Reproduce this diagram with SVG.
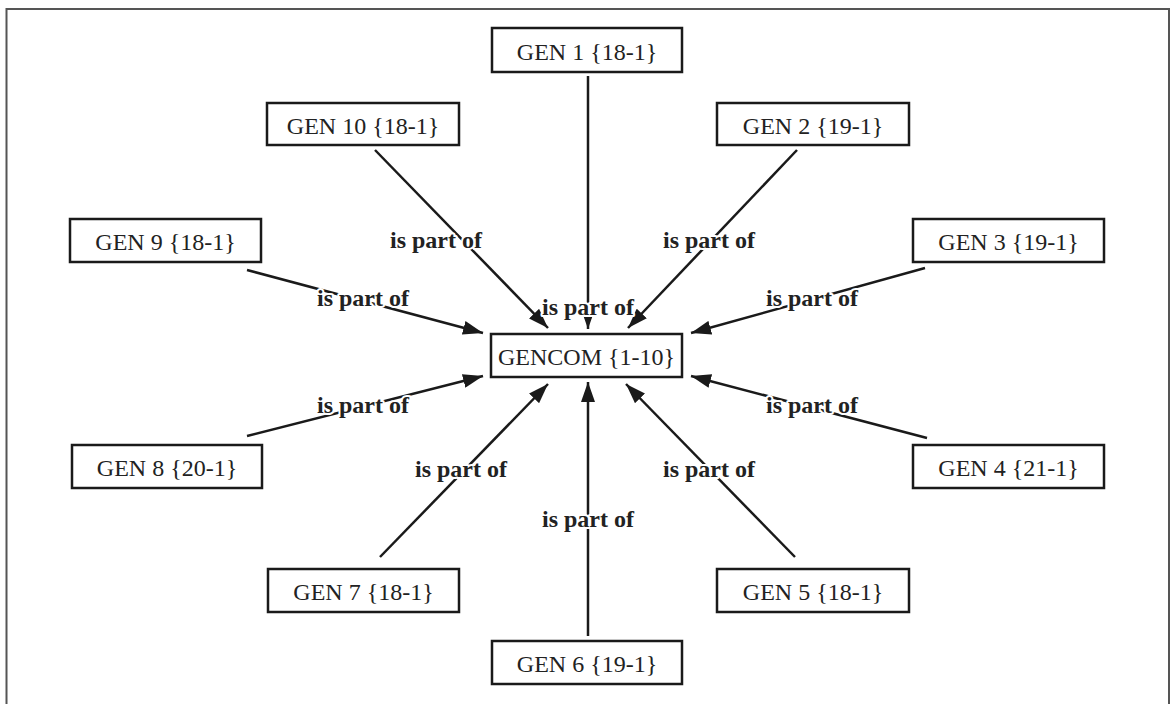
<svg xmlns="http://www.w3.org/2000/svg" width="1171" height="704" viewBox="0 0 1171 704">
  <defs>
    <marker id="arrow" markerWidth="20" markerHeight="14" refX="20" refY="7" orient="auto" markerUnits="userSpaceOnUse">
      <path d="M0,0 L20,7 L0,14 Z" fill="#1a1a1a"/>
    </marker>
    <style>
      .frame { fill: #ffffff; stroke: #555555; stroke-width: 2; }
      .box { fill: #ffffff; stroke: #1a1a1a; stroke-width: 2.5; }
      .name { font-family: "Liberation Serif", "Times New Roman", serif; font-size: 24px; fill: #222222; text-anchor: middle; }
      .edge { stroke: #1a1a1a; stroke-width: 2.5; fill: none; marker-end: url(#arrow); }
      .rel { font-family: "Liberation Serif", "Times New Roman", serif; font-size: 24px; font-weight: bold; fill: #222222; text-anchor: middle; stroke: #ffffff; stroke-width: 4; paint-order: stroke; stroke-linejoin: round; }
    </style>
  </defs>

  <rect class="frame" x="6.5" y="9" width="1162.5" height="710"/>

  <!-- connectors: every generation points at the combined node -->
  <g id="connectors">
    <line class="edge" x1="588" y1="76" x2="588" y2="329"/>
    <line class="edge" x1="375" y1="150" x2="548" y2="328"/>
    <line class="edge" x1="797" y1="150" x2="628" y2="328"/>
    <line class="edge" x1="247" y1="270" x2="483" y2="333"/>
    <line class="edge" x1="925" y1="268" x2="691" y2="333"/>
    <line class="edge" x1="247" y1="436" x2="483" y2="376"/>
    <line class="edge" x1="927" y1="438" x2="691" y2="376"/>
    <line class="edge" x1="380" y1="557" x2="548" y2="384"/>
    <line class="edge" x1="795" y1="557" x2="626" y2="384"/>
    <line class="edge" x1="588" y1="636" x2="588" y2="382"/>
    <g id="edge-labels">
      <text class="rel" x="588" y="315">is part of</text>
      <text class="rel" x="436" y="248">is part of</text>
      <text class="rel" x="709" y="248">is part of</text>
      <text class="rel" x="363" y="306">is part of</text>
      <text class="rel" x="812" y="306">is part of</text>
      <text class="rel" x="363" y="413">is part of</text>
      <text class="rel" x="812" y="413">is part of</text>
      <text class="rel" x="461" y="477">is part of</text>
      <text class="rel" x="709" y="477">is part of</text>
      <text class="rel" x="588" y="527">is part of</text>
    </g>
  </g>

  <g id="gencom">
    <rect class="box" x="491" y="334" width="191" height="43"/>
    <text class="name" x="586.5" y="365">GENCOM {1-10}</text>
  </g>
  <g id="gen1">
    <rect class="box" x="492" y="28" width="190" height="44"/>
    <text class="name" x="587" y="60">GEN 1 {18-1}</text>
  </g>
  <g id="gen2">
    <rect class="box" x="717" y="103" width="192" height="42"/>
    <text class="name" x="813" y="134">GEN 2 {19-1}</text>
  </g>
  <g id="gen3">
    <rect class="box" x="913" y="219" width="191" height="43"/>
    <text class="name" x="1008.5" y="250">GEN 3 {19-1}</text>
  </g>
  <g id="gen4">
    <rect class="box" x="913" y="445" width="191" height="43"/>
    <text class="name" x="1008.5" y="476">GEN 4 {21-1}</text>
  </g>
  <g id="gen5">
    <rect class="box" x="717" y="569" width="192" height="43"/>
    <text class="name" x="813" y="600">GEN 5 {18-1}</text>
  </g>
  <g id="gen6">
    <rect class="box" x="492" y="641" width="190" height="43"/>
    <text class="name" x="587" y="672">GEN 6 {19-1}</text>
  </g>
  <g id="gen7">
    <rect class="box" x="268" y="569" width="191" height="43"/>
    <text class="name" x="363.5" y="600">GEN 7 {18-1}</text>
  </g>
  <g id="gen8">
    <rect class="box" x="72" y="445" width="190" height="43"/>
    <text class="name" x="167" y="476">GEN 8 {20-1}</text>
  </g>
  <g id="gen9">
    <rect class="box" x="70" y="219" width="191" height="43"/>
    <text class="name" x="165.5" y="250">GEN 9 {18-1}</text>
  </g>
  <g id="gen10">
    <rect class="box" x="267" y="103" width="192" height="42"/>
    <text class="name" x="363" y="134">GEN 10 {18-1}</text>
  </g>
</svg>
